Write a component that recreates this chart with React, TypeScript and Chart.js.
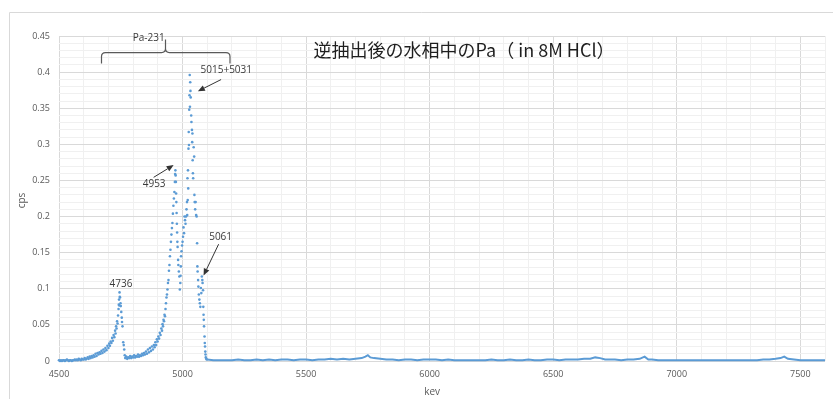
import React, { useEffect, useRef } from 'react';
import { Chart, registerables } from 'chart.js';

Chart.register(...registerables);

// Alpha spectrum counts (keV, cps) through the Pa-231 peak group
const peakPoints: [number, number][] = [
  [4500, 0.001], [4504, 0], [4508, 0.001], [4512, 0], [4516, 0.001], [4520, 0.001], [4524, 0], [4528, 0.001],
  [4532, 0.002], [4536, 0.001], [4540, 0], [4544, 0.001], [4548, 0.001], [4552, 0], [4556, 0.001], [4560, 0.001],
  [4564, 0.002], [4568, 0.001], [4572, 0.002], [4576, 0.001], [4580, 0.003], [4584, 0.002], [4588, 0.001], [4592, 0.003],
  [4596, 0.002],
  [4600, 0.002], [4604, 0.004], [4608, 0.002], [4612, 0.003], [4616, 0.005], [4620, 0.003], [4624, 0.006], [4628, 0.004],
  [4632, 0.007], [4636, 0.005], [4640, 0.008], [4644, 0.006], [4648, 0.01], [4652, 0.007], [4656, 0.011], [4660, 0.009],
  [4664, 0.012], [4668, 0.01], [4672, 0.014], [4676, 0.011], [4680, 0.016], [4684, 0.013], [4688, 0.018], [4692, 0.015],
  [4696, 0.021],
  [4700, 0.018], [4703, 0.024], [4706, 0.021], [4709, 0.027], [4712, 0.025], [4715, 0.032], [4718, 0.028], [4721, 0.036],
  [4724, 0.033], [4727, 0.042], [4729, 0.038], [4731, 0.048], [4733, 0.045], [4735, 0.055], [4737, 0.052], [4739, 0.063],
  [4741, 0.072], [4742, 0.078], [4743, 0.085], [4744, 0.077], [4745, 0.095], [4746, 0.089], [4747, 0.088], [4749, 0.08],
  [4750, 0.076], [4752, 0.068], [4754, 0.06], [4755, 0.054], [4757, 0.048], [4760, 0.026], [4762, 0.022], [4764, 0.016],
  [4766, 0.008],
  [4768, 0.004], [4772, 0.006], [4776, 0.003], [4780, 0.005], [4784, 0.004], [4788, 0.007], [4792, 0.004], [4796, 0.006],
  [4800, 0.005], [4804, 0.008], [4808, 0.005], [4812, 0.007], [4816, 0.006], [4820, 0.009], [4824, 0.006], [4828, 0.008],
  [4832, 0.007], [4836, 0.01], [4840, 0.008], [4844, 0.011], [4848, 0.009],
  [4852, 0.013], [4856, 0.01], [4860, 0.016], [4864, 0.012], [4868, 0.018], [4872, 0.014], [4876, 0.02], [4880, 0.016],
  [4884, 0.022], [4887, 0.019], [4890, 0.026], [4893, 0.022], [4896, 0.03], [4899, 0.027], [4902, 0.034], [4905, 0.031],
  [4908, 0.039], [4911, 0.036], [4914, 0.045], [4917, 0.042], [4919, 0.051], [4921, 0.048], [4923, 0.057], [4925, 0.055],
  [4927, 0.064], [4929, 0.062],
  [4931, 0.072], [4933, 0.08], [4935, 0.088], [4937, 0.092], [4939, 0.099], [4941, 0.108], [4943, 0.112], [4945, 0.125],
  [4947, 0.133], [4949, 0.145], [4951, 0.154], [4953, 0.165], [4955, 0.175], [4957, 0.184], [4959, 0.191], [4961, 0.204],
  [4963, 0.215], [4965, 0.225], [4967, 0.234], [4969, 0.248], [4970, 0.259], [4971, 0.264], [4972, 0.257],
  [4973, 0.248], [4974, 0.232], [4975, 0.22], [4976, 0.205], [4977, 0.19], [4978, 0.178], [4979, 0.165], [4980, 0.158],
  [4982, 0.14], [4983, 0.133], [4985, 0.124], [4987, 0.117], [4989, 0.099], [4991, 0.108], [4992, 0.118], [4993, 0.131],
  [4994, 0.145], [4996, 0.152], [4998, 0.16], [5000, 0.165], [5002, 0.172], [5004, 0.185], [5006, 0.177], [5008, 0.2],
  [5010, 0.195], [5012, 0.19], [5014, 0.2], [5016, 0.21],
  [5018, 0.22], [5019, 0.202], [5020, 0.253], [5021, 0.223], [5022, 0.264], [5023, 0.239], [5024, 0.294], [5025, 0.317],
  [5026, 0.299], [5027, 0.348], [5028, 0.368], [5029, 0.396], [5030, 0.352], [5031, 0.386], [5032, 0.374], [5033, 0.365],
  [5035, 0.34], [5036, 0.331], [5038, 0.32], [5039, 0.303], [5040, 0.315], [5041, 0.278], [5042, 0.26], [5043, 0.253],
  [5045, 0.296], [5047, 0.283], [5048, 0.23], [5049, 0.22], [5051, 0.21], [5053, 0.22], [5055, 0.202], [5057, 0.2],
  [5059, 0.163], [5060, 0.131], [5061, 0.124], [5063, 0.112], [5064, 0.103], [5066, 0.092], [5068, 0.085], [5070, 0.08],
  [5072, 0.075], [5074, 0.101], [5076, 0.094], [5078, 0.117], [5080, 0.112], [5081, 0.108], [5083, 0.098], [5084, 0.075],
  [5085, 0.064], [5086, 0.057], [5087, 0.048], [5089, 0.034], [5090, 0.025], [5091, 0.02], [5092, 0.013], [5093, 0.009],
  [5094, 0.005], [5096, 0.003], [5098, 0.002],
];

// Background counts above the peak group (keV, cps)
const tailPoints: [number, number][] = [
  [5100, 0.002], [5125, 0.001], [5150, 0.001], [5175, 0.001], [5200, 0.001], [5225, 0.002], [5250, 0.001], [5275, 0.001],
  [5300, 0.002], [5325, 0.001], [5350, 0.002], [5375, 0.001], [5400, 0.002], [5425, 0.002], [5450, 0.001], [5475, 0.002],
  [5500, 0.002], [5525, 0.001], [5550, 0.002], [5575, 0.002], [5600, 0.003], [5625, 0.002], [5650, 0.003], [5675, 0.002],
  [5700, 0.003], [5725, 0.004], [5740, 0.006], [5750, 0.008], [5760, 0.005], [5775, 0.004], [5800, 0.003], [5825, 0.002],
  [5850, 0.002], [5875, 0.001], [5900, 0.002], [5925, 0.002], [5950, 0.001], [5975, 0.002], [6000, 0.002], [6025, 0.002],
  [6050, 0.001], [6075, 0.002], [6100, 0.001], [6125, 0.001], [6150, 0.001], [6175, 0.001], [6200, 0.001], [6225, 0.001],
  [6250, 0.002], [6275, 0.001], [6300, 0.001], [6325, 0.002], [6350, 0.001], [6375, 0.001], [6400, 0.002], [6425, 0.001],
  [6450, 0.001], [6475, 0.002], [6500, 0.002], [6525, 0.001], [6550, 0.002], [6575, 0.002], [6600, 0.002], [6625, 0.003],
  [6650, 0.003], [6670, 0.005], [6690, 0.004], [6710, 0.002], [6725, 0.002], [6750, 0.002], [6775, 0.001], [6800, 0.002],
  [6825, 0.002], [6850, 0.003], [6870, 0.006], [6885, 0.002], [6900, 0.002], [6925, 0.001], [6950, 0.001], [6975, 0.001],
  [7000, 0.001], [7025, 0.001], [7050, 0.001], [7075, 0.001], [7100, 0.001], [7125, 0.001], [7150, 0.001], [7175, 0.001],
  [7200, 0.001], [7225, 0.001], [7250, 0.001], [7275, 0.001], [7300, 0.001], [7325, 0.001], [7350, 0.002], [7375, 0.002],
  [7400, 0.003], [7420, 0.004], [7435, 0.006], [7450, 0.003], [7475, 0.002], [7500, 0.001], [7525, 0.001], [7550, 0.001],
  [7575, 0.001], [7600, 0.001],
];

const xTickValues = [4500, 5000, 5500, 6000, 6500, 7000, 7500];
const xTickLabels = ['4500', '5000', '5500', '6000', '6500', '7000', '7500'];
const yTickValues = [0, 0.05, 0.1, 0.15, 0.2, 0.25, 0.3, 0.35, 0.4, 0.45];
const yTickLabels = ['0', '0.05', '0.1', '0.15', '0.2', '0.25', '0.3', '0.35', '0.4', '0.45'];

const chartTitle = '逆抽出後の水相中のPa（ in 8M HCl）';
const xAxisTitle = 'kev';
const yAxisTitle = 'cps';

// Peak annotations: label text and where it sits (keV, cps)
const peakNames = ['4736', '4953', '5015+5031', '5061'];
const peakNameKev = [4751, 4885, 5177, 5154];
const peakNameCps = [0.1064, 0.2446, 0.4026, 0.1708];

// Arrows pointing from a label to its peak
const arrowFromKev = [4883, 5156, 5146];
const arrowFromCps = [0.2543, 0.3897, 0.1617];
const arrowToKev = [4964, 5062, 5085];
const arrowToCps = [0.2713, 0.3735, 0.1183];

// Brace over the whole Pa-231 group
const groupName = 'Pa-231';
const groupNameKev = 4863;
const groupNameCps = 0.447;
const braceKev = [4672, 4931, 5192]; // left end, tip, right end
const braceCps = [0.412, 0.427, 0.445]; // arm ends, bar, tip

const BLUE = '#5B9BD5';
const LATIN = "'Open Sans', 'DejaVu Sans', sans-serif";

const findLabel = (values: number[], labels: string[], v: number, eps: number) => {
  const i = values.findIndex((t) => Math.abs(t - v) < eps);
  return i >= 0 ? labels[i] : '';
};

const overlayPlugin = {
  id: 'overlay',
  afterDatasetsDraw(chart: any) {
    const { ctx, chartArea, scales } = chart;
    const px = (v: number) => scales.x.getPixelForValue(v);
    const py = (v: number) => scales.y.getPixelForValue(v);
    ctx.save();

    // outer frame of the chart box
    ctx.strokeStyle = '#d9d9d9';
    ctx.lineWidth = 1;
    ctx.beginPath();
    ctx.moveTo(9.5, chart.height);
    ctx.lineTo(9.5, 12.5);
    ctx.lineTo(chart.width, 12.5);
    ctx.stroke();

    // title
    ctx.fillStyle = '#1e1e1e';
    ctx.font = "18px 'Noto Sans CJK JP', sans-serif";
    ctx.textAlign = 'center';
    ctx.textBaseline = 'middle';
    ctx.fillText(chartTitle, px(6139), py(0.4305));

    // axis titles
    ctx.fillStyle = '#595959';
    ctx.font = `10px ${LATIN}`;
    ctx.fillText(xAxisTitle, px(6010), chartArea.bottom + 31);
    ctx.save();
    ctx.translate(chartArea.left - 37, (chartArea.top + chartArea.bottom) / 2 + 2);
    ctx.rotate(-Math.PI / 2);
    ctx.fillText(yAxisTitle, 0, 0);
    ctx.restore();

    // brace
    const L = px(braceKev[0]);
    const M = px(braceKev[1]);
    const R = px(braceKev[2]);
    const yEnd = py(braceCps[0]);
    const yBar = py(braceCps[1]);
    const yTip = py(braceCps[2]);
    const r = 4;
    ctx.strokeStyle = '#595959';
    ctx.lineWidth = 1.2;
    ctx.beginPath();
    ctx.moveTo(L, yEnd);
    ctx.lineTo(L, yBar + r);
    ctx.quadraticCurveTo(L, yBar, L + r, yBar);
    ctx.lineTo(M - r, yBar);
    ctx.quadraticCurveTo(M, yBar, M, yBar - r);
    ctx.lineTo(M, yTip);
    ctx.moveTo(M, yBar - r);
    ctx.quadraticCurveTo(M, yBar, M + r, yBar);
    ctx.lineTo(R - r, yBar);
    ctx.quadraticCurveTo(R, yBar, R, yBar + r);
    ctx.lineTo(R, yEnd);
    ctx.stroke();

    // labels
    ctx.fillStyle = '#3a3a3a';
    ctx.font = `10px ${LATIN}`;
    ctx.fillText(groupName, px(groupNameKev), py(groupNameCps));
    peakNames.forEach((name, i) => {
      ctx.fillText(name, px(peakNameKev[i]), py(peakNameCps[i]));
    });

    // arrows
    ctx.strokeStyle = '#333333';
    ctx.fillStyle = '#333333';
    ctx.lineWidth = 1;
    arrowFromKev.forEach((_, i) => {
      const x1 = px(arrowFromKev[i]);
      const y1 = py(arrowFromCps[i]);
      const x2 = px(arrowToKev[i]);
      const y2 = py(arrowToCps[i]);
      const a = Math.atan2(y2 - y1, x2 - x1);
      const head = 7;
      const half = 3;
      const bx = x2 - head * Math.cos(a);
      const by = y2 - head * Math.sin(a);
      ctx.beginPath();
      ctx.moveTo(x1, y1);
      ctx.lineTo(bx, by);
      ctx.stroke();
      ctx.beginPath();
      ctx.moveTo(x2, y2);
      ctx.lineTo(bx + half * Math.sin(a), by - half * Math.cos(a));
      ctx.lineTo(bx - half * Math.sin(a), by + half * Math.cos(a));
      ctx.closePath();
      ctx.fill();
    });

    ctx.restore();
  },
};

export default function App() {
  const canvasRef = useRef<HTMLCanvasElement>(null);

  useEffect(() => {
    const canvas = canvasRef.current;
    if (!canvas) return;
    const chart = new Chart(canvas, {
      type: 'scatter',
      data: {
        datasets: [
          {
            label: 'background',
            data: tailPoints.map(([x, y]) => ({ x, y })),
            showLine: true,
            borderColor: BLUE,
            borderWidth: 2,
            pointRadius: 0,
            tension: 0,
            clip: 6,
          },
          {
            label: 'cps',
            data: peakPoints.map(([x, y]) => ({ x, y })),
            backgroundColor: BLUE,
            borderWidth: 0,
            pointRadius: 1.3,
            pointBorderWidth: 0,
            clip: 6,
          },
        ],
      } as any,
      options: {
        responsive: false,
        animation: false,
        devicePixelRatio: 1,
        events: [],
        layout: { padding: { top: 36, right: 5, bottom: 0, left: 0 } },
        plugins: {
          legend: { display: false },
          tooltip: { enabled: false },
          title: { display: false },
        },
        scales: {
          x: {
            type: 'linear',
            min: 4500,
            max: 7600,
            afterFit: (s: any) => {
              s.height = 38;
            },
            border: { display: false },
            grid: {
              drawTicks: false,
              color: (c: any) => (findLabel(xTickValues, xTickLabels, c.tick?.value, 0.5) ? '#d9d9d9' : '#f0f0f0'),
            },
            ticks: {
              stepSize: 100,
              autoSkip: false,
              maxRotation: 0,
              padding: 8,
              color: '#595959',
              font: { family: LATIN, size: 9 },
              callback: (v: any) => findLabel(xTickValues, xTickLabels, Number(v), 0.5),
            },
          },
          y: {
            type: 'linear',
            min: 0,
            max: 0.45,
            afterFit: (s: any) => {
              s.width = 59;
            },
            border: { display: false },
            grid: {
              drawTicks: false,
              color: (c: any) => (findLabel(yTickValues, yTickLabels, c.tick?.value, 0.001) ? '#d9d9d9' : '#f0f0f0'),
            },
            ticks: {
              stepSize: 0.01,
              autoSkip: false,
              padding: 9,
              color: '#595959',
              font: { family: LATIN, size: 9 },
              callback: (v: any) => findLabel(yTickValues, yTickLabels, Number(v), 0.001),
            },
          },
        },
      } as any,
      plugins: [overlayPlugin],
    });
    return () => chart.destroy();
  }, []);

  return (
    <div style={{ position: 'fixed', left: 0, top: 0, width: 833, height: 399, background: '#ffffff' }}>
      <canvas ref={canvasRef} width={833} height={399} style={{ display: 'block', width: 833, height: 399 }} />
    </div>
  );
}
